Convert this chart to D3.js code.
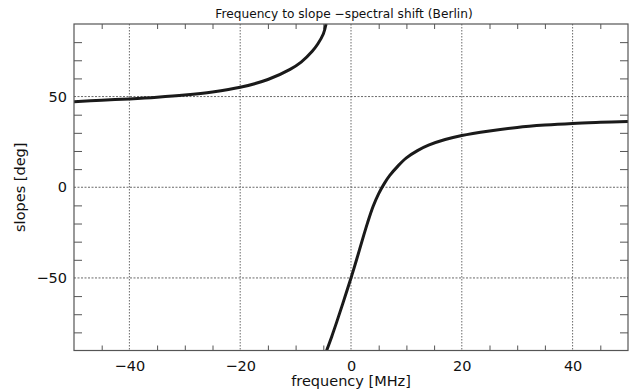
<!DOCTYPE html>
<html><head><meta charset="utf-8">
<script src="https://cdn.jsdelivr.net/npm/d3@7"></script>
<style>body{margin:0;background:#fff}svg{display:block}text{font-family:"DejaVu Sans",sans-serif}</style>
</head><body>
<svg id="c" width="631" height="392"></svg>
<script>
const title = "Frequency to slope \u2212spectral shift (Berlin)";
const xLabel = "frequency [MHz]";
const yLabel = "slopes [deg]";
const xTicks = [-40, -20, 0, 20, 40];
const yTicks = [-50, 0, 50];
// left branch (frequency MHz, slope deg)
const leftFreq  = [-50, -45, -40, -35, -30, -25, -20, -15, -11, -9, -7, -6, -5, -4.5];
const leftSlope = [47.2, 48.0, 48.7, 49.6, 50.8, 52.5, 55.1, 59.4, 65.0, 69.0, 75.0, 79.0, 84.5, 90];
// right branch
const rightFreq  = [-4.4, -3.5, -2.6, -1.5, 0, 1, 2.2, 3, 4, 5, 6, 7, 8.5, 10, 12, 14, 17, 20, 25, 30, 35, 40, 45, 50];
const rightSlope = [-90, -82.5, -74.5, -64.3, -50, -40, -27.5, -19.5, -10.5, -3.5, 2, 6.5, 11.8, 16.2, 20.2, 23.2, 26.3, 28.5, 31, 33, 34.3, 35.2, 35.8, 36.3];

const svg = d3.select("#c");
const m = {l:74, r:628, t:24, b:350.5};
const x = d3.scaleLinear().domain([-50, 50]).range([m.l, m.r]);
const y = d3.scaleLinear().domain([-90, 90]).range([m.b, m.t]);
const axisCol = "#555";

svg.append("clipPath").attr("id","pc").append("rect")
  .attr("x", m.l).attr("y", m.t).attr("width", m.r-m.l).attr("height", m.b-m.t);

// grid
const g = svg.append("g");
g.selectAll("line.gx").data(xTicks).join("line")
  .attr("x1", d=>x(d)).attr("x2", d=>x(d)).attr("y1", m.t).attr("y2", m.b)
  .attr("stroke","#444").attr("stroke-width",0.8).attr("stroke-dasharray","1.5,1.5");
g.selectAll("line.gy").data(yTicks).join("line")
  .attr("y1", d=>y(d)).attr("y2", d=>y(d)).attr("x1", m.l).attr("x2", m.r)
  .attr("stroke","#444").attr("stroke-width",0.8).attr("stroke-dasharray","2,1.5");

// minor ticks
const xMinor = d3.range(-45, 50, 5).filter(v => !xTicks.includes(v));
const yMinor = d3.range(-80, 90, 10).filter(v => !yTicks.includes(v));
const styleTicks = s=>{s.select(".domain").remove(); s.selectAll("line").attr("stroke",axisCol);};
svg.append("g").attr("transform",`translate(0,${m.b})`)
  .call(d3.axisBottom(x).tickValues(xMinor).tickSize(-5).tickFormat("")).call(styleTicks);
svg.append("g").attr("transform",`translate(0,${m.t})`)
  .call(d3.axisTop(x).tickValues(xMinor).tickSize(-5).tickFormat("")).call(styleTicks);
svg.append("g").attr("transform",`translate(${m.l},0)`)
  .call(d3.axisLeft(y).tickValues(yMinor).tickSize(-8).tickFormat("")).call(styleTicks);
svg.append("g").attr("transform",`translate(${m.r},0)`)
  .call(d3.axisRight(y).tickValues(yMinor).tickSize(-8).tickFormat("")).call(styleTicks);

// major tick labels
const fmt = d => d < 0 ? "\u2212" + Math.abs(d) : String(d);
const styleLab = s=>{s.select(".domain").remove(); s.selectAll("text").attr("font-size",14.5).attr("fill","#111").attr("font-family","DejaVu Sans");};
svg.append("g").attr("transform",`translate(0,${m.b})`)
  .call(d3.axisBottom(x).tickValues(xTicks).tickSize(0).tickPadding(10).tickFormat(fmt)).call(styleLab);
svg.append("g").attr("transform",`translate(${m.l},0)`)
  .call(d3.axisLeft(y).tickValues(yTicks).tickSize(0).tickPadding(7).tickFormat(fmt)).call(styleLab);

// curves
const line = d3.line().x(d=>x(d[0])).y(d=>y(d[1])).curve(d3.curveCatmullRom.alpha(0.5));
const cg = svg.append("g").attr("clip-path","url(#pc)");
cg.append("path").datum(leftFreq.map((f,i)=>[f,leftSlope[i]]))
  .attr("d", line).attr("fill","none").attr("stroke","#1a1a1a").attr("stroke-width",3);
cg.append("path").datum(rightFreq.map((f,i)=>[f,rightSlope[i]]))
  .attr("d", line).attr("fill","none").attr("stroke","#1a1a1a").attr("stroke-width",3);

// frame
svg.append("rect").attr("x",m.l).attr("y",m.t).attr("width",m.r-m.l).attr("height",m.b-m.t)
  .attr("fill","none").attr("stroke",axisCol).attr("stroke-width",1.2);

// labels
svg.append("text").attr("x",344).attr("y",18).attr("text-anchor","middle")
  .attr("font-size",12.2).attr("fill","#111").text(title);
svg.append("text").attr("x",351).attr("y",386).attr("text-anchor","middle")
  .attr("font-size",14.5).attr("fill","#111").text(xLabel);
svg.append("text").attr("transform",`translate(25,${(m.t+m.b)/2}) rotate(-90)`).attr("text-anchor","middle")
  .attr("font-size",14.5).attr("fill","#111").text(yLabel);
</script>
</body></html>
